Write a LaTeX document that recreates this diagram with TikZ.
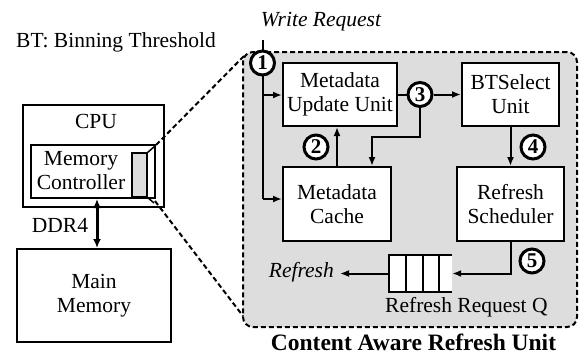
\documentclass[tikz,border=0pt]{standalone}
\usepackage{fontspec}
\setmainfont{Liberation Serif}
\usetikzlibrary{arrows.meta,calc}
\definecolor{cgray}{RGB}{221,221,221}
\begin{document}
\begin{tikzpicture}[x=1pt,y=-1pt,
  every node/.style={font=\fontsize{21.5}{24}\selectfont, inner sep=0pt},
  box/.style={draw, line width=2pt, fill=white, align=center},
  arr/.style={line width=2pt, -{Latex[length=9pt,width=7pt]}},
  ln/.style={line width=2pt},
  num/.style={circle, draw, line width=3pt, fill=white, minimum size=24pt, font=\fontsize{21}{21}\selectfont\bfseries},
  dsh/.style={line width=2pt, dash pattern=on 5pt off 3pt}]
\useasboundingbox (0,0) rectangle (580,356);

% left side
\node[anchor=base west] (bt) at (16,47.5) {BT: Binning Threshold};
\node[draw, line width=2pt, minimum width=141pt, minimum height=102pt] (cpu) at (93.5,156) {};
\node[anchor=base] (cpul) at (96,128) {CPU};
\node[draw, line width=2pt, minimum width=124pt, minimum height=53pt] (mc) at (93,171.5) {};
\node[align=center] (mcl) at (81,171) {Memory\\Controller};
\draw[line width=1.5pt, fill=cgray] (132,153) rectangle (147,197);
\draw[line width=1.5pt] (147,153) -- (155,146) (147,197) -- (154,203);
\node[draw, line width=2pt, minimum width=154pt, minimum height=93pt, align=center] (mm) at (94,295.5) {Main\\Memory};
\draw[line width=3pt, {Latex[length=9pt,width=8pt]}-{Latex[length=9pt,width=8pt]}] ($(mc.south)+(4,0)$) -- ($(mm.north)+(3,0)$);
\node[anchor=base] (ddr) at (60,232) {DDR4};

% content aware refresh unit
\node[draw, dsh, fill=cgray, rounded corners=10pt, minimum width=334pt, minimum height=275pt] (caru) at (410,189.5) {};
\draw[dsh] (156,145) -- (244,56);
\draw[dsh] (155,201) -- (243,316);
\node[anchor=base, font=\fontsize{23.5}{26}\selectfont\bfseries] (carul) at (413.5,350) {Content Aware Refresh Unit};

\node[box, minimum width=114pt, minimum height=63pt] (muu) at (340,94.5) {Metadata\\Update Unit};
\node[box, minimum width=97pt, minimum height=63pt] (bts) at (510.5,94.5) {BTSelect\\Unit};
\node[box, minimum width=108pt, minimum height=74pt] (cache) at (337,204) {Metadata\\Cache};
\node[box, minimum width=107pt, minimum height=74pt] (sched) at (510.5,204) {Refresh\\Scheduler};

% queue
\node[fill=white, minimum width=63pt, minimum height=37pt] (q) at (420.5,273.5) {};
\draw[ln] (q.north east) -- (q.north west) -- (q.south west) -- (q.south east);
\draw[ln] ($(q.north west)+(17,0)$) -- ($(q.south west)+(17,0)$);
\draw[ln] ($(q.north west)+(34,0)$) -- ($(q.south west)+(34,0)$);
\draw[ln] ($(q.north west)+(50,0)$) -- ($(q.south west)+(50,0)$);
\node[anchor=base west] (rrq) at (385,312) {Refresh Request Q};
\node[anchor=base east, font=\fontsize{21.5}{24}\selectfont\itshape] (reft) at (334,277) {Refresh};
\coordinate (rfe) at (340,273.5);

% write request path
\node[anchor=base, font=\fontsize{21.5}{24}\selectfont\itshape] (wr) at (321,26) {Write Request};
\coordinate (wtop) at (262.5,40);
\coordinate (wb1) at (262.5,95);
\coordinate (wbot) at (262.5,199);
\draw[ln] (wtop) -- (wbot);
\draw[arr] (wb1) -- (wb1 -| muu.west);
\draw[arr] (wbot) -- (wbot -| cache.west);
\node[num] (n1) at (262.5,63) {1};

\node[num] (n3) at (420,94.5) {3};
\draw[ln] (muu.east) -- (n3);
\draw[arr] (n3) -- (bts.west);
\coordinate (c3b) at (420,137);
\draw[arr] (n3.south) -- (c3b) -| ($(cache.north)+(35,0)$);
\draw[arr] (cache.north) -- (cache.north |- muu.south);
\node[num] (n2) at (316,147) {2};
\draw[arr] (bts.south) -- (sched.north);
\node[num] (n4) at (533,147) {4};
\draw[arr] (sched.south) |- (q.east);
\node[num] (n5) at (532,261) {5};
\draw[arr] (q.west) -- (rfe);
\end{tikzpicture}
\end{document}
